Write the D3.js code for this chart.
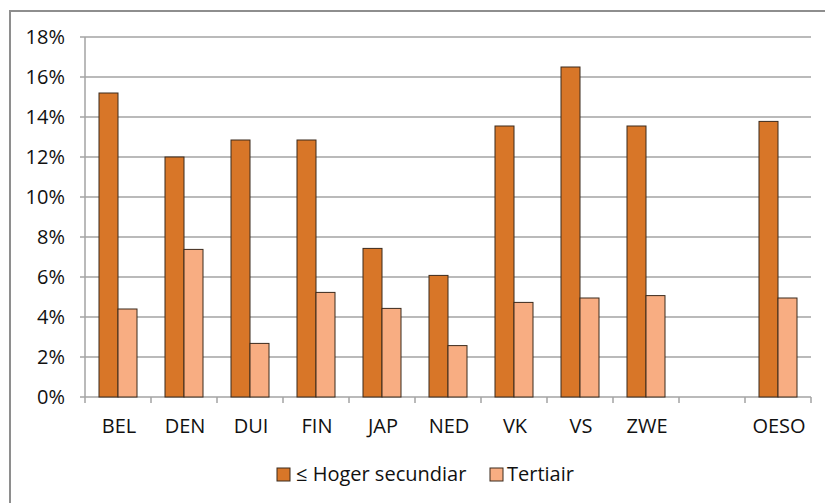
<!DOCTYPE html>
<html><head><meta charset="utf-8">
<script src="https://cdn.jsdelivr.net/npm/d3@7"></script>
<style>body{margin:0;background:#fff}svg{display:block}text{font-family:"Open Sans",Lato,sans-serif;fill:#111}</style>
</head><body><svg id="c" width="825" height="503"></svg>
<script>
const categories = ["BEL","DEN","DUI","FIN","JAP","NED","VK","VS","ZWE","","OESO"];
const seriesNames = ["≤ Hoger secundiar","Tertiair"];
const hoger = [15.2,12.0,12.85,12.85,7.43,6.08,13.55,16.5,13.55,null,13.78];
const tertiair = [4.4,7.38,2.68,5.23,4.43,2.57,4.73,4.95,5.07,null,4.95];
const yTicks = [0,2,4,6,8,10,12,14,16,18];
const colors = ["#D87628","#F8AD82"];

const svg = d3.select("#c");
svg.append("rect").attr("x",10).attr("y",11).attr("width",830).attr("height",510)
  .attr("fill","none").attr("stroke","#8e8e8e").attr("stroke-width",2);

const x = d3.scaleBand().domain(d3.range(categories.length)).range([85,811]);
const y = d3.scaleLinear().domain([0,18]).range([397,37]);

svg.append("g").selectAll("line").data(yTicks).join("line")
  .attr("x1",80).attr("x2",811).attr("y1",d=>y(d)).attr("y2",d=>y(d))
  .attr("stroke","#a3a3a3").attr("stroke-width",1.5);
svg.append("line").attr("x1",85).attr("x2",85).attr("y1",37).attr("y2",397)
  .attr("stroke","#a3a3a3").attr("stroke-width",1.5);
svg.append("g").selectAll("line").data(d3.range(categories.length+1)).join("line")
  .attr("x1",d=>85+d*x.step()).attr("x2",d=>85+d*x.step()).attr("y1",397).attr("y2",403)
  .attr("stroke","#a3a3a3").attr("stroke-width",1.5);

svg.append("g").selectAll("text").data(yTicks).join("text")
  .attr("x",65).attr("y",d=>y(d)+7).attr("text-anchor","end").attr("font-size",20)
  .text(d=>d+"%");
svg.append("g").selectAll("text").data(categories).join("text")
  .attr("x",(d,i)=>x(i)+x.bandwidth()/2+1).attr("y",433).attr("text-anchor","middle").attr("font-size",20)
  .text(d=>d);

const bw = 19;
[hoger,tertiair].forEach((vals,s)=>{
  svg.append("g").selectAll("rect").data(vals.map((v,i)=>({v,i})).filter(d=>d.v!=null)).join("rect")
    .attr("x",d=>x(d.i)+x.bandwidth()/2-bw+s*bw).attr("width",bw)
    .attr("y",d=>y(d.v)).attr("height",d=>y(0)-y(d.v))
    .attr("fill",colors[s]).attr("stroke","#3b2a1c").attr("stroke-width",1);
});

const leg = [{x:277,tx:296},{x:490,tx:507}];
seriesNames.forEach((n,i)=>{
  svg.append("rect").attr("x",leg[i].x).attr("y",468).attr("width",13).attr("height",13)
    .attr("fill",colors[i]).attr("stroke","#3b2a1c").attr("stroke-width",1);
  svg.append("text").attr("x",leg[i].tx).attr("y",481).attr("font-size",20).text(n);
});
</script></body></html>
